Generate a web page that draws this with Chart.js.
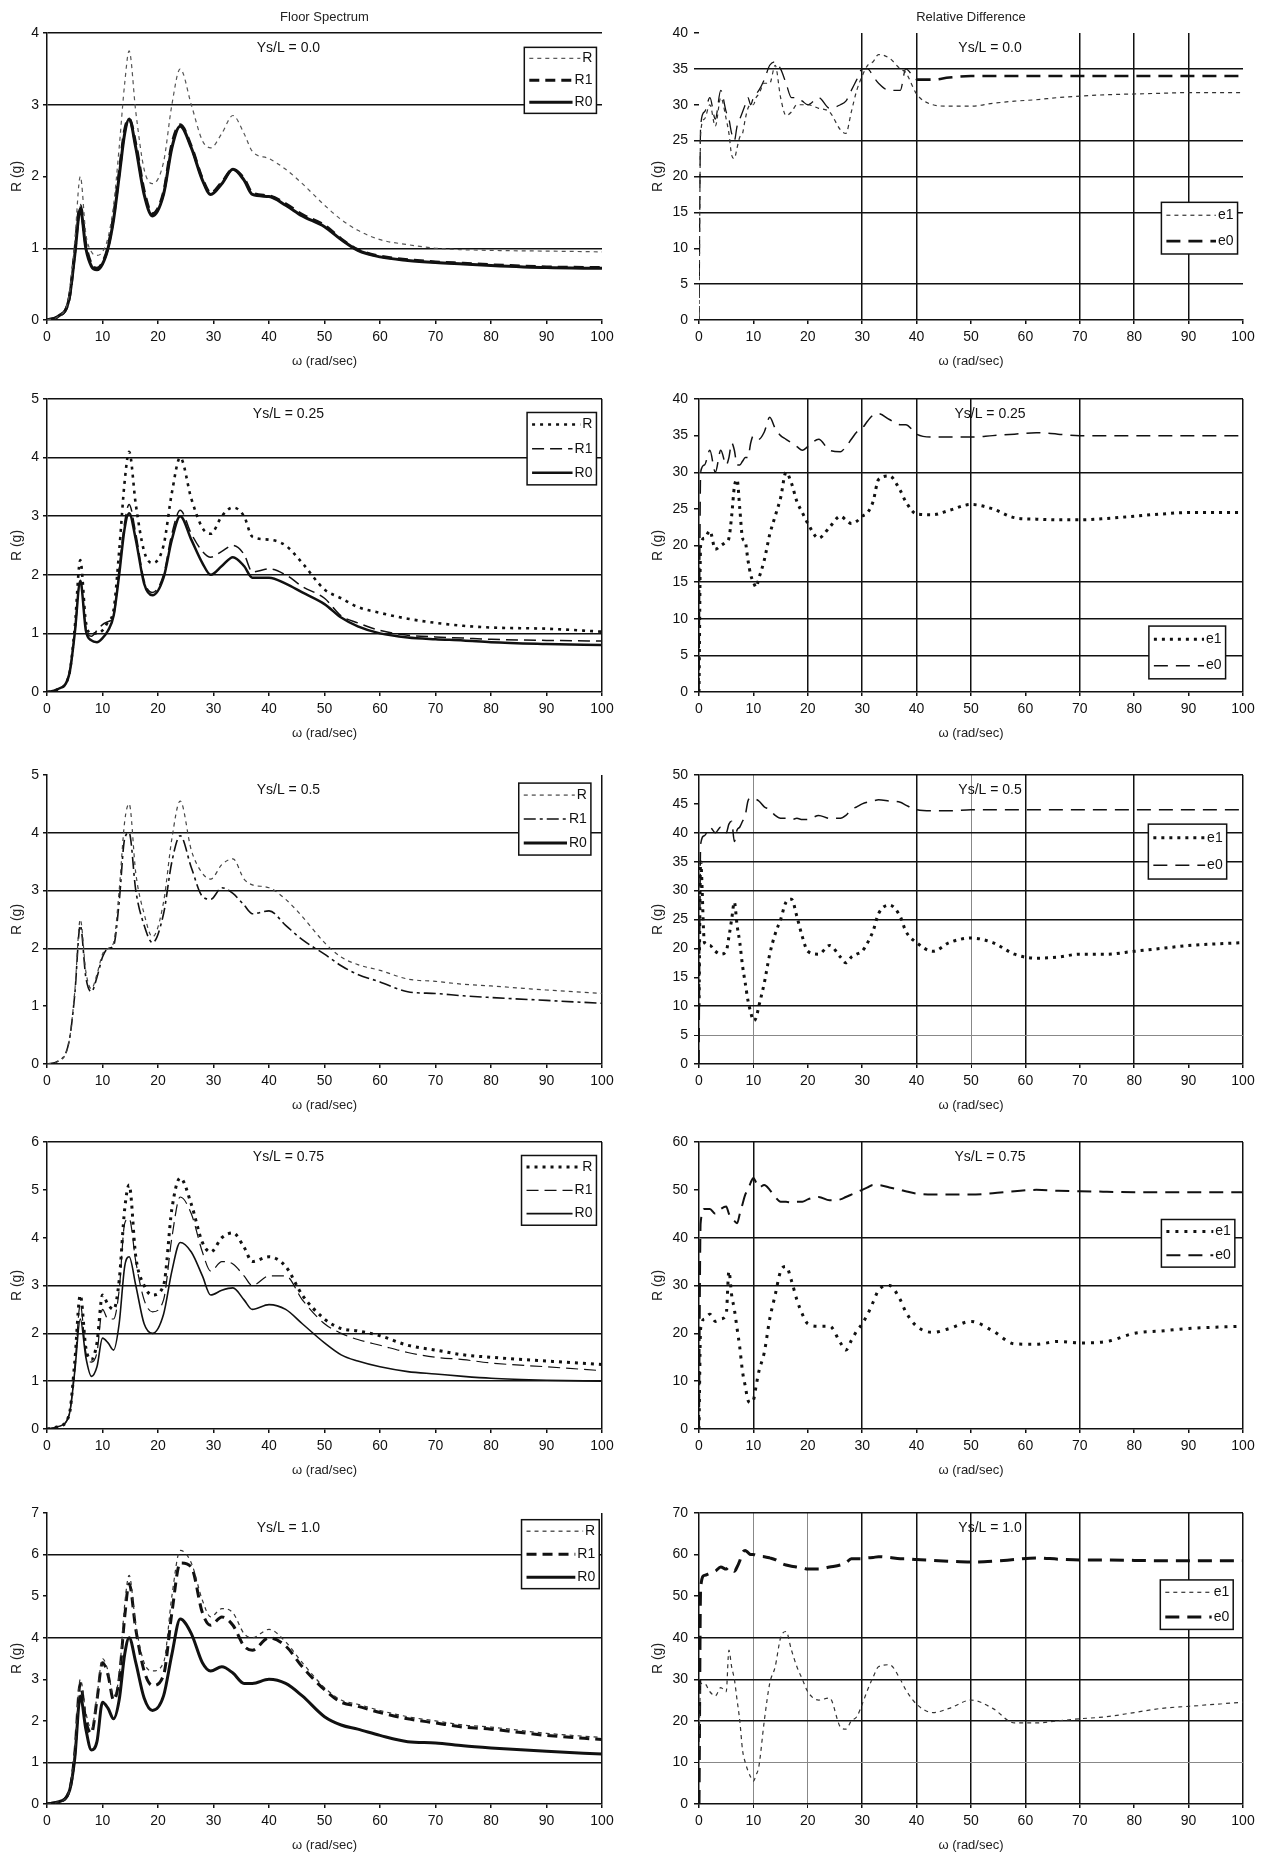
<!DOCTYPE html>
<html><head><meta charset="utf-8">
<script src="https://cdn.jsdelivr.net/npm/chart.js@4.4.0/dist/chart.umd.min.js"></script>
<style>
html,body{margin:0;padding:0;background:#fff;}
body{width:1261px;height:1857px;position:relative;overflow:hidden;}
canvas{position:absolute;}
</style></head><body>
<script>
// ---------- DATA ----------
const omegaR = [0,2,4,5,6,7,8,9,10,11,12,13,14,14.8,16,17.5,19,21,22.5,24,26,28,29.5,31.5,33.5,35.5,37,40,43,46,50,53,56,60,65,70,75,80,90,100];

const R_00  = [0,0.05,0.35,1.1,2.0,1.2,0.95,0.9,0.95,1.15, 1.6,2.4,3.3,3.75,2.9,2.1,1.9,2.2,3.0,3.5, 3.0,2.5,2.4,2.6,2.85,2.6,2.35,2.25,2.1,1.9, 1.6,1.4,1.25,1.12,1.05,1.0,0.98,0.97,0.96,0.95];
const R1_00 = [0,0.05,0.3,0.95,1.6,1.05,0.78,0.72,0.8,1.02, 1.45,2.05,2.65,2.8,2.45,1.8,1.48,1.78,2.45,2.72, 2.42,1.97,1.77,1.92,2.1,1.97,1.77,1.73,1.62,1.47, 1.32,1.13,0.98,0.89,0.84,0.81,0.79,0.77,0.74,0.73];
const R0_00 = [0,0.05,0.3,0.9,1.55,1.0,0.75,0.7,0.78,1.0, 1.4,2.0,2.6,2.8,2.4,1.75,1.45,1.75,2.4,2.7, 2.4,1.95,1.75,1.9,2.1,1.95,1.75,1.72,1.6,1.45, 1.3,1.12,0.97,0.88,0.83,0.8,0.78,0.76,0.73,0.72];

const R_25  = [0,0.05,0.3,1.1,2.25,1.2,1.0,1.0,1.05,1.2, 1.4,2.4,3.6,4.1,3.2,2.4,2.2,2.5,3.4,4.0, 3.3,2.8,2.7,3.0,3.15,3.0,2.65,2.6,2.5,2.2, 1.75,1.6,1.45,1.35,1.25,1.18,1.13,1.1,1.08,1.03];
const R1_25 = [0,0.05,0.3,1.0,1.9,1.1,0.95,1.05,1.15,1.2, 1.3,2.1,2.9,3.2,2.7,1.9,1.7,2.0,2.7,3.1, 2.7,2.4,2.3,2.4,2.5,2.35,2.05,2.1,2.0,1.8, 1.6,1.3,1.18,1.05,0.97,0.94,0.92,0.9,0.88,0.87];
const R0_25 = [0,0.05,0.3,1.0,1.9,1.05,0.88,0.85,0.92,1.05, 1.3,2.0,2.8,3.05,2.6,1.85,1.65,1.95,2.6,3.0, 2.6,2.2,2.0,2.15,2.3,2.15,1.95,1.95,1.85,1.7, 1.5,1.27,1.12,1.0,0.93,0.9,0.88,0.85,0.82,0.8];

const R_50  = [0,0.05,0.4,1.25,2.5,1.6,1.3,1.55,1.9,2.0, 2.1,3.0,4.2,4.5,3.3,2.6,2.2,2.8,3.9,4.55, 3.7,3.3,3.2,3.45,3.55,3.2,3.1,3.05,2.85,2.55, 2.1,1.85,1.72,1.62,1.47,1.43,1.38,1.35,1.28,1.22];
const R1_50 = [0,0.05,0.4,1.2,2.4,1.5,1.25,1.5,1.85,2.0, 2.05,2.8,3.9,4.0,3.0,2.4,2.1,2.6,3.5,3.95, 3.4,2.9,2.85,3.05,2.95,2.75,2.6,2.65,2.4,2.15, 1.9,1.7,1.55,1.42,1.25,1.22,1.18,1.15,1.1,1.05];
const R0_50 = [];

const R_75  = [0,0.05,0.3,1.4,2.8,1.7,1.45,1.8,2.8,2.6, 2.5,3.1,4.6,5.1,3.6,3.0,2.8,3.0,4.6,5.25, 4.7,3.9,3.7,4.0,4.1,3.8,3.5,3.6,3.4,2.8, 2.3,2.1,2.05,1.95,1.75,1.65,1.55,1.5,1.42,1.35];
const R1_75 = [0,0.05,0.3,1.3,2.6,1.6,1.4,1.6,2.5,2.3, 2.3,2.9,4.3,4.4,3.5,2.7,2.45,2.7,4.0,4.85, 4.5,3.7,3.3,3.5,3.45,3.2,3.0,3.2,3.2,2.7, 2.2,2.0,1.87,1.75,1.6,1.5,1.45,1.38,1.3,1.22];
const R0_75 = [0,0.05,0.3,1.2,2.3,1.5,1.1,1.3,1.9,1.8, 1.65,2.2,3.4,3.6,3.0,2.2,2.0,2.4,3.3,3.9, 3.7,3.2,2.8,2.9,2.95,2.7,2.5,2.6,2.5,2.2, 1.8,1.55,1.42,1.3,1.2,1.15,1.1,1.06,1.02,1.0];

const R_100  = [0,0.05,0.3,1.3,3.0,2.2,1.8,2.6,3.5,3.2, 2.6,3.1,4.8,5.5,4.3,3.4,3.2,3.4,5.0,6.1, 5.8,4.9,4.5,4.7,4.6,4.1,4.0,4.2,3.9,3.4, 2.8,2.5,2.4,2.25,2.1,2.0,1.9,1.85,1.7,1.6];
const R1_100 = [0,0.05,0.3,1.2,2.9,2.0,1.7,2.5,3.4,3.1, 2.5,3.0,4.5,5.3,4.2,3.2,2.85,3.1,4.6,5.8, 5.7,4.6,4.3,4.5,4.3,3.8,3.7,4.0,3.8,3.3, 2.75,2.45,2.35,2.2,2.05,1.95,1.85,1.8,1.65,1.55];
const R0_100 = [0,0.05,0.3,1.1,2.6,1.8,1.3,1.5,2.45,2.3, 2.05,2.5,3.6,4.0,3.4,2.55,2.25,2.6,3.6,4.45, 4.1,3.4,3.2,3.3,3.15,2.9,2.9,3.0,2.9,2.6, 2.1,1.9,1.8,1.65,1.5,1.47,1.4,1.35,1.27,1.2];

const omegaE = [0,0.3,1,2,3,4,5,5.5,6,6.5, 7,7.5,8,8.5,9,9.5,10,10.5,11,12, 13,14,15,16,17,18,19,20,22,24, 26,27,28,29,30,31,32,33,35,37, 38,40,43,46,50,54,58,62,66,70, 75,80,85,90,100];

const e1_00 = [0,26,28,30,27,31,28,26,23,22.5, 24,25.5,26,28,29.5,30,30,31,31.5,33, 33,35.5,31,28.5,29,30,30,30,29.5,29, 26.5,26,29,32,34,35.5,36,37,36.5,35, 34.5,31.5,30,29.8,29.8,30.2,30.5,30.7,31,31.2, 31.4,31.5,31.6,31.7,31.7];
const e0_00 = [0,27,29,31,28,32,29,28,26,25, 27,28,29,30,31,30,31,31.5,32,33.5, 35.5,36,35,33,31,31,30.5,30,31,29.5, 30,30.5,32,33.5,35,35,34,33,32,32, 35,33.5,33.5,33.8,34,34,34,34,34,34, 34,34,34,34,34];

const e1_25 = [0,20,21,22,19.5,20,20.5,21,24,28, 29,25,21,20.5,18,16,15,14.3,15.5,18, 21.5,24,26.5,30,28.5,26,24.5,23,21,22.5, 24,23.5,23,23.3,24,24.5,26,29,29.5,27.5, 26,24.3,24.2,24.8,25.6,25,23.8,23.6,23.5,23.5, 23.7,24,24.3,24.5,24.5];
const e0_25 = [0,30,31,33,30,33,31,32,34,33, 31,31,31.5,32,32,34,35,34.8,34.5,35.5, 37.5,36,35,34.5,34,33.5,33,33.5,34.5,33, 32.8,33.5,34.5,35.5,36,37,37.8,38,37.2,36.5, 36.5,35.2,34.8,34.8,34.8,35,35.2,35.4,35.2,35, 35,35,35,35,35];

const e1_50 = [10,35,21,20.5,19.5,19,19.5,22,25,28, 24,21,17,14,11,9,7.5,8,10,14, 19,22.5,25,28,28.5,25.5,22,19.5,19,20.5, 18.5,17.5,18.5,19,19.5,21,23,26,27.5,25.5, 23,21,19.5,21,21.8,21,19,18.3,18.5,19, 19,19.5,20,20.5,21];
const e0_50 = [0,38,39.5,41,40,41,40,41.5,42,38.5, 40.5,41,42,43,45.5,46,46,45.8,45.5,44.5, 44,43,42.5,42.5,42.3,42.5,42.3,42.3,43,42.5, 42.5,43,44,44.5,45,45.3,45.5,45.7,45.5,45.3, 44.8,44,43.8,43.8,44,44,44,44,44,44, 44,44,44,44,44];

const e1_75 = [0,21,23,24,22.5,23,24,33,28,25, 21,17,12,9,6,5.5,6,9,12,16, 23,28,33,34,31,27,24,22,21.5,21.5, 18,16.5,18.5,20.5,22,24,26.5,29,30,27, 24.5,21.5,20.2,21,22.5,20.5,17.8,17.7,18.3,18, 18.3,20,20.5,21,21.5];
const e0_75 = [0,43,46,46,45,46,46.5,45,44,43.5, 43,45,47,49,50,51.5,52.5,51.5,50.5,51, 50,48.5,47.5,47.5,47.3,47.5,47.5,48,48.5,47.8, 48,48.5,49,49.5,50,50.5,51,51,50.5,50, 49.7,49.2,49,49,49,49.3,49.7,50,49.8,49.7, 49.6,49.5,49.5,49.5,49.5];

const e1_100 = [13,29,29,27,26,28,27,37,33,30, 25,20,13,10,8,6.5,5.5,7,9,20, 29,33,40,41.5,37,33,30,27,25,25.5, 18.5,18,20,21,24,27.5,30.5,33,33.5,30, 27.5,24,22,23,25,23,19.5,19.5,20,20.5, 21,22,23,23.5,24.5];
const e0_100 = [0,52,55,55.5,56,57,56.5,57,56.5,56, 57,58.5,60.5,61,60.5,60,60,59.8,59.6,59.5, 59.2,58.8,58,57.5,57.2,57,56.8,56.5,56.5,57, 57.5,58,59,59,59,59.2,59.3,59.5,59.3,59, 59,58.8,58.6,58.4,58.2,58.4,58.8,59.2,58.9,58.7, 58.7,58.6,58.5,58.5,58.5];

const xTickLabels = [0,10,20,30,40,50,60,70,80,90,100];
const columnTitles = ['Floor Spectrum', 'Relative Difference'];
const ysLabels = ['Ys/L = 0.0','Ys/L = 0.25','Ys/L = 0.5','Ys/L = 0.75','Ys/L = 1.0'];

// ---------- PANEL SETUP (styles / layout) ----------
const K = '#111';
const panels = [
  {row:0,col:0,ymax:4,ystep:1,h:[1,3,4],v:[],box:[0.86,0.99,0.05,0.28],
   series:[['R',R_00,[4,4],1.2,'#555'],['R1',R1_00,[10,6],3,K],['R0',R0_00,[],3,K]]},
  {row:0,col:1,ymax:40,ystep:5,h:[5,15,20,25,35],v:[30,40,70,80,90],box:[0.85,0.99,0.59,0.77],noYBorder:true,
   series:[['e1',e1_00,[4,4],1.2,'#333'],['e0',e0_00,[14,8],2.6,K,40,1.3]]},
  {row:1,col:0,ymax:5,ystep:1,h:[1,2,3,4,5],v:[100],box:[0.865,0.99,0.046,0.293],
   series:[['R',R_25,[3,5],2.6,K],['R1',R1_25,[12,6],1.5,K],['R0',R0_25,[],2.5,K]]},
  {row:1,col:1,ymax:40,ystep:5,h:[5,10,15,30,40],v:[20,30,40,50,70,100],box:[0.827,0.968,0.775,0.955],
   series:[['e1',e1_25,[3,5],3,K],['e0',e0_25,[14,8],1.5,K]]},
  {row:2,col:0,ymax:5,ystep:1,h:[2,3,4],v:[100],box:[0.85,0.98,0.028,0.277],
   series:[['R',R_50,[4,4],1.2,'#444'],['R1',R1_50,[12,4,3,4],1.6,K],['R0',R0_50,[],3,K]]},
  {row:2,col:1,ymax:50,ystep:5,h:[10,25,30,35,40,50],hThin:[5],v:[40,60,80,100],vThin:[10,50],box:[0.826,0.97,0.17,0.36],
   series:[['e1',e1_50,[3,5],3,K],['e0',e0_50,[14,8],1.5,K]]},
  {row:3,col:0,ymax:6,ystep:1,h:[1,2,3,6],v:[100],box:[0.855,0.99,0.047,0.29],
   series:[['R',R_75,[3,5],3,K],['R1',R1_75,[12,6],1.2,K],['R0',R0_75,[],1.6,K]]},
  {row:3,col:1,ymax:60,ystep:10,h:[30,40,60],v:[10,30,70,100],box:[0.85,0.985,0.27,0.436],
   series:[['e1',e1_75,[3,6],3,K],['e0',e0_75,[14,8],2,K]]},
  {row:4,col:0,ymax:7,ystep:1,h:[1,4,6],v:[100],box:[0.855,0.995,0.023,0.26],
   series:[['R',R_100,[4,4],1.2,'#333'],['R1',R1_100,[10,6],3,K],['R0',R0_100,[],3,K]]},
  {row:4,col:1,ymax:70,ystep:10,h:[20,30,40,70],hThin:[10],v:[30,40,50,60,70,90,100],vThin:[10,20],box:[0.848,0.982,0.23,0.40],
   series:[['e1',e1_100,[4,4],1.2,'#333'],['e0',e0_100,[14,8],3,K]]}
];

const canvasTops = [0,366,742,1109,1480];
const plotTops = [33,399,775,1142,1513];
const plotBottoms = [320,692,1064,1429,1804];
const CH = 375;
const colLeft = [0,630], colW = [630,631];
const yAxisW = [47,69], padRight = [28,18];
const yTitlePad = [9,20];
const XH = 48;

Chart.defaults.font.family = "'Liberation Sans', Arial, sans-serif";
Chart.defaults.font.size = 14;
Chart.defaults.color = '#111';

const decor = {
  id:'decor',
  afterDatasetsDraw(chart, args, o){
    const {ctx, chartArea:a} = chart;
    const w = a.right - a.left, hh = a.bottom - a.top;
    ctx.save();
    ctx.font = "14px 'Liberation Sans', Arial, sans-serif";
    ctx.fillStyle = '#111';
    ctx.textAlign = 'center'; ctx.textBaseline = 'middle';
    ctx.fillText(o.label, a.left + o.labelX*w, a.top + 0.052*hh);
    const [fx0,fx1,fy0,fy1] = o.box;
    const x0 = a.left + fx0*w, x1 = a.left + fx1*w, y0 = a.top + fy0*hh, y1 = a.top + fy1*hh;
    ctx.fillStyle = '#fff';
    ctx.fillRect(x0,y0,x1-x0,y1-y0);
    ctx.strokeStyle = '#111'; ctx.lineWidth = 1.5; ctx.setLineDash([]);
    ctx.strokeRect(x0,y0,x1-x0,y1-y0);
    const dsl = chart.data.datasets; const n = dsl.length;
    dsl.forEach((ds,i)=>{
      const cy = y0 + (i+0.5)*(y1-y0)/n;
      ctx.setLineDash([]);
      ctx.fillStyle = '#111'; ctx.textAlign = 'right'; ctx.textBaseline = 'middle';
      const tw = ctx.measureText(ds.label).width;
      ctx.fillText(ds.label, x1-4, cy);
      ctx.beginPath();
      ctx.setLineDash(ds.borderDash || []);
      ctx.lineWidth = ds.borderWidth; ctx.strokeStyle = ds.borderColor;
      ctx.moveTo(x0+5, cy); ctx.lineTo(x1-6-tw, cy); ctx.stroke();
    });
    ctx.restore();
  }
};

panels.forEach((p,idx)=>{
  const cv = document.createElement('canvas');
  cv.width = colW[p.col]; cv.height = CH;
  cv.style.left = colLeft[p.col]+'px'; cv.style.top = canvasTops[p.row]+'px';
  document.body.appendChild(cv);
  const xs = p.col===0 ? omegaR : omegaE;
  const hThin = p.hThin || [], vThin = p.vThin || [];
  const topInCanvas = plotTops[p.row] - canvasTops[p.row];
  const botInCanvas = plotBottoms[p.row] - canvasTops[p.row];
  const isTop = p.row === 0;
  const titleH = 2 + 13*1.2 + 8;
  new Chart(cv, {
    type:'line',
    data:{ datasets: p.series.map(s=>{
      const ds = {
        label:s[0], data:s[1].map((y,i)=>({x:xs[i], y})),
        borderDash:s[2], borderWidth:s[3], borderColor:s[4], backgroundColor:s[4],
        pointRadius:0, fill:false, cubicInterpolationMode:'monotone', borderCapStyle:'butt'
      };
      if (s[5] !== undefined) {
        ds.segment = { borderWidth: c => c.p0.parsed.x < s[5] ? s[6] : s[3] };
      }
      return ds;
    })},
    options:{
      responsive:false, animation:false, events:[],
      layout:{padding:{left:0, right:padRight[p.col], top: isTop ? topInCanvas - titleH : topInCanvas, bottom: CH - botInCanvas - XH}},
      plugins:{
        legend:{display:false}, tooltip:{enabled:false},
        title:{display:isTop, text:columnTitles[p.col], fullSize:false, color:'#222',
               font:{size:13, weight:'normal', lineHeight:1.2}, padding:{top:2,bottom:8}},
        decor:{label:ysLabels[p.row], labelX: p.col===0 ? 0.435 : 0.535, box:p.box}
      },
      scales:{
        x:{type:'linear', min:0, max:100,
           afterBuildTicks(s){ s.ticks = xTickLabels.map(v=>({value:v})); },
           afterFit(s){ s.height = XH; s.paddingLeft = 0; s.paddingRight = 0; },
           ticks:{autoSkip:false, maxRotation:0, padding:5, color:'#111'},
           grid:{drawTicks:true, tickLength:4, tickColor:'#111',
             color:c=>{const v=c.tick&&c.tick.value; if(p.v.includes(v)) return '#111'; if(vThin.includes(v)) return '#888'; return 'rgba(0,0,0,0)';},
             lineWidth:c=>{const v=c.tick&&c.tick.value; return vThin.includes(v)?1:1.5;}},
           border:{display:true, color:'#111', width:1.5},
           title:{display:true, text:'ω (rad/sec)', color:'#222', font:{size:13, lineHeight:1}, padding:{top:0,bottom:0.5}}
        },
        y:{type:'linear', min:0, max:p.ymax,
           ticks:{stepSize:p.ystep, padding: p.col===0?4:6, color:'#111'},
           afterFit(s){ s.width = yAxisW[p.col]; s.paddingTop = 0; s.paddingBottom = 0; },
           grid:{drawTicks:true, tickLength: p.col===0?4:5, tickColor:'#111',
             color:c=>{const v=c.tick&&c.tick.value; if(p.h.includes(v)) return '#111'; if(hThin.includes(v)) return '#888'; return 'rgba(0,0,0,0)';},
             lineWidth:c=>{const v=c.tick&&c.tick.value; return hThin.includes(v)?1:1.5;}},
           border:{display:!p.noYBorder, color:'#111', width:1.5},
           title:{display:true, text:'R (g)', color:'#222', font:{size:14, lineHeight:1.2}, padding:{top:yTitlePad[p.col], bottom:0}}
        }
      }
    },
    plugins:[decor]
  });
});
</script>
</body></html>
